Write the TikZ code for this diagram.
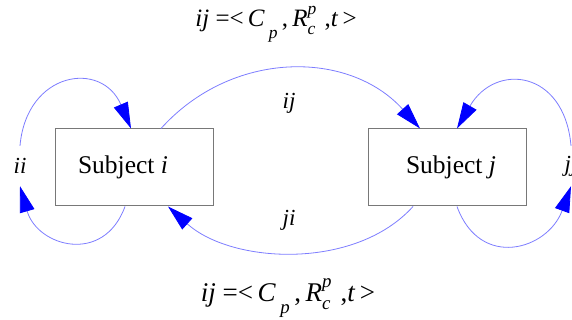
\documentclass[tikz,border=0pt]{standalone}
\usepackage{fontspec}
\setmainfont{Liberation Serif}
\usepackage{graphicx}
\usetikzlibrary{positioning,arrows.meta}
\definecolor{linkblue}{RGB}{125,125,255}
\definecolor{tipblue}{RGB}{0,0,255}
\definecolor{boxgray}{RGB}{120,120,120}
\newcommand{\smallidx}[2]{\raisebox{#1}{\scalebox{0.7}{\textit{#2}}}}
\newcommand{\tupleform}{\textit{ij} =<\,\textit{C}\,\smallidx{-0.45em}{p}\,,\,\textit{R}\rlap{\smallidx{-0.3em}{c}}\smallidx{0.5em}{p}\,\,,\textit{t}\,>}

\begin{document}
\begin{tikzpicture}[
        x=1pt, y=1pt,
        subj/.style={draw=boxgray, line width=1pt, minimum width=158pt, minimum height=77pt,
          inner sep=0pt, font=\fontsize{25.5}{28}\selectfont},
        linklbl/.style={font=\fontsize{23}{26}\selectfont\itshape, inner sep=0pt},
        looplbl/.style={linklbl, minimum height=40pt},
        link/.style={draw=linkblue, line width=0.8pt, -{Triangle[length=26pt, width=15pt, color=tipblue]}},
        formula/.style={inner sep=0pt},
      ]
        \useasboundingbox (0,0) rectangle (572,-320);

        % Formulas
        \node[formula, font=\fontsize{25}{28}\selectfont] (ftop) at (276,-24) {\tupleform};
        \node[formula, font=\fontsize{27}{30}\selectfont] (fbot) at (288,-298) {\tupleform};

        % Subjects
        \node[subj] (si) at (134,-167.5) {\hspace*{-22pt}Subject \textit{i}};
        \node[subj] (sj) at (447,-167.5) {\hspace*{8pt}Subject \textit{j}};

        % Labels
        \node[linklbl] (lij) at (289,-103) {ij};
        \node[linklbl] (lji) at (289,-220) {ji};
        \node[looplbl] (lii) at (20,-166) {ii};
        \node[looplbl] (ljj) at (571,-166) {jj};

        % Links between subjects
        \draw[link] ([xshift=27pt]si.north) to[out=48, in=132, looseness=1.05] ([xshift=-27pt]sj.north);
        \draw[link] ([xshift=-34pt]sj.south) to[out=-132, in=-42, looseness=0.9] ([xshift=34pt]si.south);

        % Self links
        \draw[link] (lii.north) to[out=85, in=113, looseness=1.7] ([xshift=-3pt]si.north);
        \draw[link] ([xshift=-9pt]si.south) to[out=-110, in=-74, looseness=1.5] (lii.south);
        \draw[link] (ljj.north) to[out=95, in=60, looseness=1.7] ([xshift=10pt]sj.north);
        \draw[link] ([xshift=10pt]sj.south) to[out=-70, in=-110, looseness=1.5] (ljj.south);
      \end{tikzpicture}
\end{document}
